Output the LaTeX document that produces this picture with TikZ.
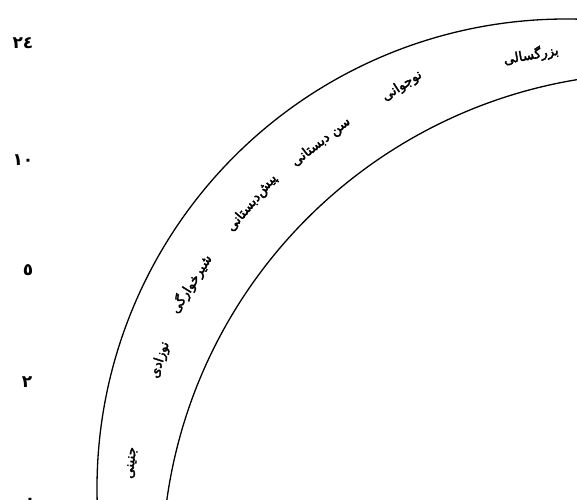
\documentclass[tikz,border=0pt]{standalone}
\usepackage{fontspec}
\newfontfamily\arabicfont[Script=Arabic, FakeBold=2.5]{DejaVu Sans}
\newfontfamily\digitfont[Script=Arabic]{DejaVu Sans}
\TeXXeTstate=1
\begin{document}
\begin{tikzpicture}[
        x=1pt, y=1pt,
        band/.style={line width=1.3pt},
        stage/.style={font=\arabicfont\fontsize{13.5}{15}\selectfont, inner sep=0pt},
        age/.style={font=\digitfont\bfseries\fontsize{17}{19}\selectfont, inner sep=0pt}
    ]
        \clip (0,0) rectangle (577,499);

        \draw[band] (566,11) ++(182:469) arc[start angle=182, end angle=86, radius=469];
        \draw[band] (658,-70) ++(175:496) arc[start angle=175, end angle=95, radius=496];

        \node[stage, rotate=10] (adult) at (531,444) {\beginR بزرگسالی\endR};
        \node[stage, rotate=33] (teen) at (402,413) {\beginR نوجوانی\endR};
        \node[stage, rotate=38] (school) at (321,357) {\beginR سن دبستانی\endR};
        \node[stage, rotate=50] (preschool) at (252,296) {\beginR پیش‌دبستانی\endR};
        \node[stage, rotate=58] (infant) at (191,215) {\beginR شیرخوارگی\endR};
        \node[stage, rotate=72] (newborn) at (160,139) {\beginR نوزادی\endR};
        \node[stage, rotate=84] (prenatal) at (132,36) {\beginR جنینی\endR};

        \node[age] (a24) at (23,456) {٢٤};
        \node[age] (a10) at (23,339) {١٠};
        \node[age] (a5) at (28,229) {٥};
        \node[age] (a2) at (27,117) {٢};
        \node[age] (a0) at (30,-2) {٠};
    \end{tikzpicture}
\end{document}
